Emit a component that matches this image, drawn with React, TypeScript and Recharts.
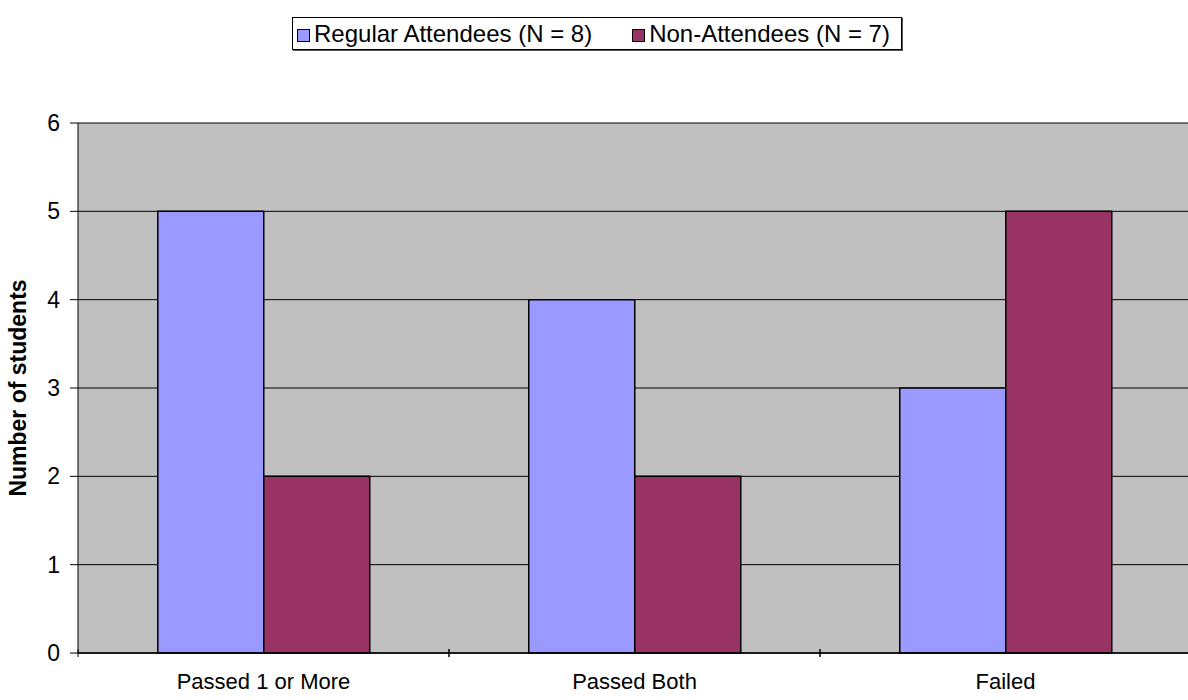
import { BarChart, Bar, XAxis, YAxis, CartesianGrid } from 'recharts';

const categories = ['Passed 1 or More', 'Passed Both', 'Failed'];
const regularAttendees = [5, 4, 3];
const nonAttendees = [2, 2, 5];
const yTicks = [0, 1, 2, 3, 4, 5, 6];

const series = [
  { key: 'regular', name: 'Regular Attendees (N = 8)', color: '#9999FF' },
  { key: 'non', name: 'Non-Attendees (N = 7)', color: '#993366' },
];

const data = categories.map((name, i) => ({
  name,
  regular: regularAttendees[i],
  non: nonAttendees[i],
}));

const FONT = '"Liberation Sans", Arial, sans-serif';
const CHART_W = 1200;
const MARGIN = { top: 123, right: 9, left: 0, bottom: 0 };
const Y_W = 78;

function CategoryTick(props: any) {
  const { x, y, payload } = props;
  const band = (CHART_W - MARGIN.left - MARGIN.right - Y_W) / categories.length;
  const half = band / 2;
  const axisY = y - 4;
  return (
    <g>
      <line x1={x - half} y1={axisY - 4} x2={x - half} y2={axisY + 4} stroke="#000" strokeWidth={1} />
      <line x1={x + half} y1={axisY - 4} x2={x + half} y2={axisY + 4} stroke="#000" strokeWidth={1} />
      <text x={x} y={axisY + 36} textAnchor="middle" fontSize={22} fontFamily={FONT} fill="#000">
        {payload.value}
      </text>
    </g>
  );
}

function LegendBox() {
  return (
    <div
      style={{
        position: 'absolute',
        left: 292,
        top: 17,
        width: 610,
        height: 33,
        border: '1px solid #000',
        boxShadow: '1px 1px 0 #555',
        background: '#fff',
        display: 'flex',
        alignItems: 'center',
        boxSizing: 'border-box',
        paddingLeft: 4,
        fontFamily: FONT,
        fontSize: 24,
        gap: 40,
        whiteSpace: 'nowrap',
      }}
    >
      {series.map((s) => (
        <span key={s.key} style={{ display: 'flex', alignItems: 'center' }}>
          <span
            style={{
              display: 'inline-block',
              width: 11,
              height: 11,
              background: s.color,
              border: '1px solid #000',
              marginRight: 4,
              marginTop: 3,
            }}
          />
          {s.name}
        </span>
      ))}
    </div>
  );
}

export default function App() {
  return (
    <div style={{ position: 'absolute', left: 0, top: 0, width: 1188, height: 700, overflow: 'hidden', background: '#fff' }}>
      <LegendBox />
      <BarChart
        width={CHART_W}
        height={700}
        data={data}
        margin={MARGIN}
        barCategoryGap="21.5%"
        barGap={0}
      >
        <CartesianGrid vertical={false} stroke="#000" strokeWidth={1} fill="#C0C0C0" fillOpacity={1} />
        <XAxis
          dataKey="name"
          height={47}
          axisLine={{ stroke: '#000', strokeWidth: 1.5 }}
          tickLine={false}
          tickSize={0}
          tickMargin={4}
          interval={0}
          tick={<CategoryTick />}
        />
        <YAxis
          width={Y_W}
          domain={[0, 6]}
          ticks={yTicks}
          interval={0}
          axisLine={{ stroke: '#000' }}
          tickLine={{ stroke: '#000' }}
          tickSize={8}
          tickMargin={10}
          tick={{ fontSize: 23, fontFamily: FONT, fill: '#000' }}
          label={{
            value: 'Number of students',
            angle: -90,
            position: 'insideLeft',
            offset: 18,
            style: { textAnchor: 'middle', fontSize: 23, fontWeight: 'bold', fontFamily: FONT, fill: '#000' },
          }}
        />
        {series.map((s) => (
          <Bar
            key={s.key}
            dataKey={s.key}
            name={s.name}
            fill={s.color}
            stroke="#000"
            strokeWidth={1.5}
            isAnimationActive={false}
          />
        ))}
      </BarChart>
    </div>
  );
}
